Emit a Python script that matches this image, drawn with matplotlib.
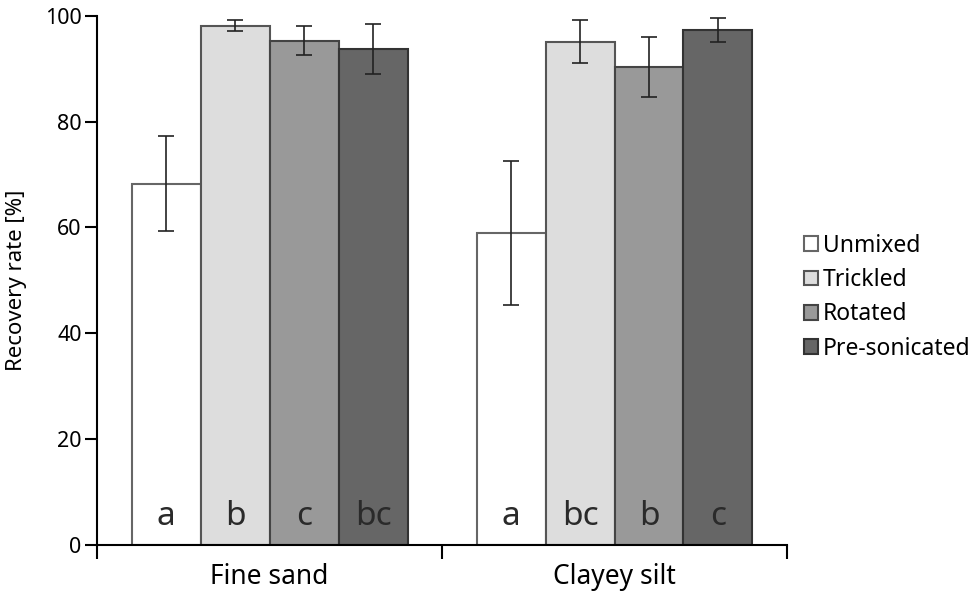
import matplotlib.pyplot as plt
import numpy as np

plt.rcParams['font.family'] = ['Noto Sans', 'DejaVu Sans']

# Data
soils = ['Fine sand', 'Clayey silt']
treatments = ['Unmixed', 'Trickled', 'Rotated', 'Pre-sonicated']
colors = ['#ffffff', '#dddddd', '#999999', '#666666']
edges = ['#666666', '#555555', '#444444', '#333333']

recovery = {
    'Unmixed': [68.3, 59.0],
    'Trickled': [98.1, 95.1],
    'Rotated': [95.3, 90.3],
    'Pre-sonicated': [93.7, 97.3],
}
errors = {
    'Unmixed': [8.9, 13.6],
    'Trickled': [1.05, 4.0],
    'Rotated': [2.75, 5.75],
    'Pre-sonicated': [4.7, 2.35],
}
letters = {
    'Unmixed': ['a', 'a'],
    'Trickled': ['b', 'bc'],
    'Rotated': ['c', 'b'],
    'Pre-sonicated': ['bc', 'c'],
}

fig = plt.figure(figsize=(9.78, 5.91), dpi=100)
ax = fig.add_axes([0.0992, 0.0778, 0.7055, 0.8956])

centers = np.array([0.5, 1.5])
width = 0.2
for i, t in enumerate(treatments):
    x = centers + (i - 1.5) * width
    ax.bar(x, recovery[t], width, color=colors[i], edgecolor=edges[i],
           linewidth=1.5, label=t, zorder=2)
    ax.errorbar(x, recovery[t], yerr=errors[t], fmt='none', ecolor='#222222',
                elinewidth=1.2, capsize=6, capthick=1.2, zorder=3)
    for xi, lab in zip(x, letters[t]):
        ax.text(xi, 5.4, lab, ha='center', va='center', fontsize=24, color='#2a2a2a', zorder=4)

ax.set_xlim(0, 2)
ax.set_ylim(0, 100)
ax.set_xticks([0, 1, 2])
ax.set_xticklabels([])
ax.set_xticks(centers, minor=True)
ax.set_xticklabels(soils, minor=True, fontsize=19)
ax.tick_params(axis='x', which='major', length=10, width=1.5, direction='out')
ax.tick_params(axis='x', which='minor', length=0, pad=13)
ax.set_yticks([0, 20, 40, 60, 80, 100])
ax.tick_params(axis='y', length=9, width=1.5, labelsize=15.5, pad=2)
ax.set_ylabel('Recovery rate [%]', fontsize=16, labelpad=13)

for s in ['top', 'right']:
    ax.spines[s].set_visible(False)
for s in ['left', 'bottom']:
    ax.spines[s].set_linewidth(1.5)

fig.legend(loc='center left', bbox_to_anchor=(0.813, 0.497), frameon=False,
           fontsize=16.5, handlelength=0.62, handleheight=0.62, handletextpad=0.2,
           labelspacing=0.45, borderaxespad=0)

fig.savefig('out.png', dpi=100)
